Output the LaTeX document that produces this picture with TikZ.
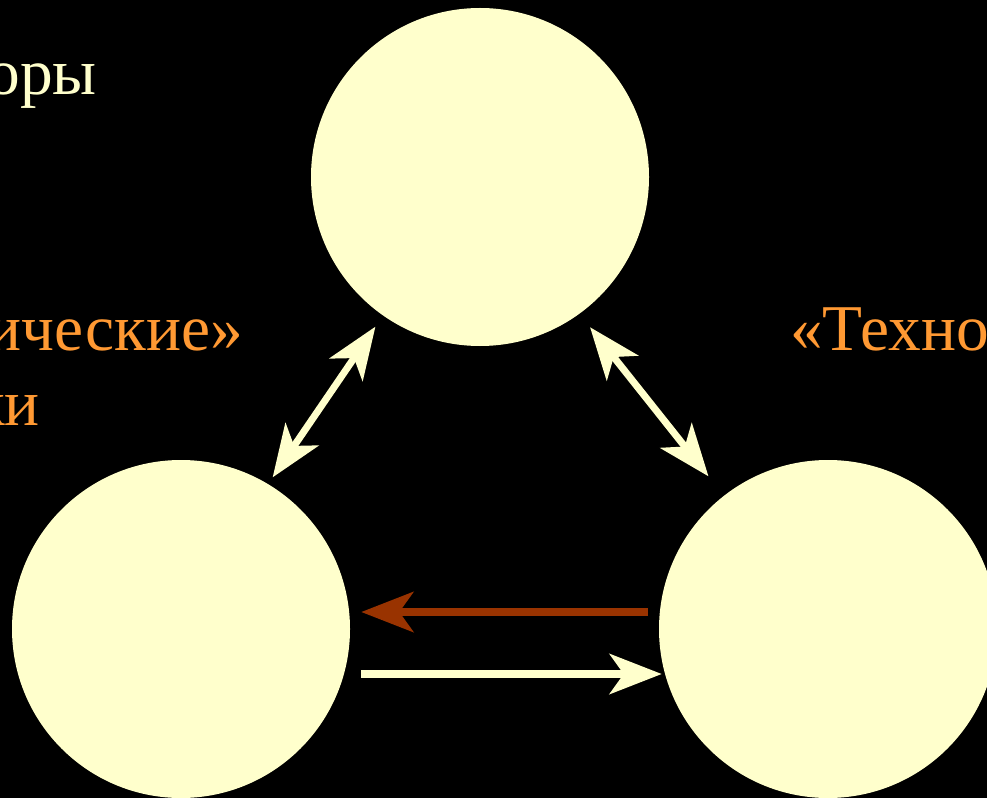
\documentclass[tikz,border=0pt]{standalone}
\usepackage{fontspec}
\setmainfont{Liberation Serif}
\usetikzlibrary{arrows.meta}
\definecolor{cream}{HTML}{FFFFCC}
\definecolor{orng}{HTML}{FF9933}
\definecolor{brwn}{HTML}{993300}
\begin{document}
\begin{tikzpicture}[x=0.75pt,y=-0.75pt,
  ball/.style={circle,fill=cream,draw=none,inner sep=0pt,minimum size=253.5pt},
  lbl/.style={inner sep=0pt,font=\fontsize{49}{58}\selectfont},
  mytip/.tip={Stealth[length=39pt,width=30pt,inset=10.5pt]},
  link/.style={line width=5.25pt,color=cream,{mytip}-{mytip}},
  flow/.style={line width=6pt}]
\fill[black] (0,0) rectangle (987,798);
\useasboundingbox (0,0) rectangle (987,798);
\clip (0,0) rectangle (987,798);
\node[ball] (T) at (480,177) {};
\node[ball] (L) at (181,629) {};
\node[ball] (R) at (828,629) {};
\node[lbl,text=cream,anchor=base east] (t1) at (97,95) {оры};
\node[lbl,text=orng,anchor=base east] (t2) at (243,350) {ические»};
\node[lbl,text=orng,anchor=base east] (t3) at (40,425) {ки};
\node[lbl,text=orng,anchor=base west] (t4) at (790,350) {«Техно};
\draw[link,shorten <=10pt,shorten >=6pt] (T.235.3) -- (L.59.1);
\draw[link,shorten <=12.75pt,shorten >=18.5pt] (T.306.3) -- (R.128.3);
\draw[flow,color=brwn,-{mytip}] ([xshift=-8.25pt,yshift=12.75pt]R.west) -- ([xshift=8.25pt,yshift=12.75pt]L.east);
\draw[flow,color=cream,-{mytip}] ([xshift=8.25pt,yshift=-33.75pt]L.east) -- ([xshift=2.25pt,yshift=-33.75pt]R.west);
\end{tikzpicture}
\end{document}
